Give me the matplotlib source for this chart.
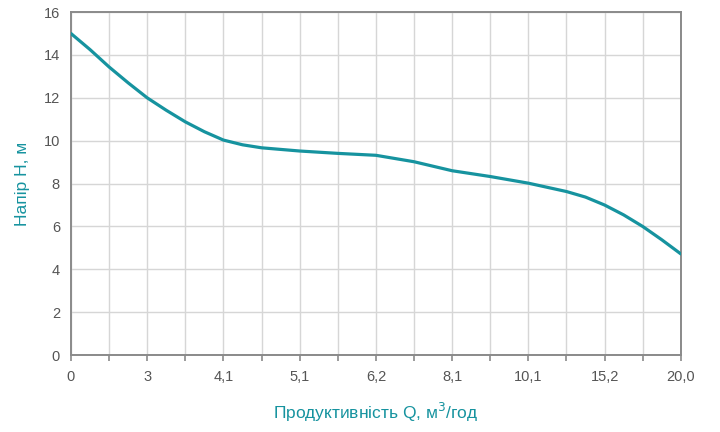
import matplotlib.pyplot as plt
from matplotlib import font_manager

# Pump curve: head vs. flow (x axis is uneven, labels sit at equal slots)
FLOW_LABELS = ["0", "3", "4,1", "5,1", "6,2", "8,1", "10,1", "15,2", "20,0"]
SLOTS = [0, 0.25, 0.5, 0.75, 1, 1.25, 1.5, 1.75, 2, 2.25, 2.5, 3, 3.5, 4,
         4.5, 5, 5.5, 6, 6.5, 6.75, 7, 7.25, 7.5, 7.75, 8]
HEAD = [15.0, 14.25, 13.44, 12.7, 12.0, 11.42, 10.88, 10.42, 10.03, 9.81, 9.67,
        9.52, 9.41, 9.32, 9.02, 8.6, 8.33, 8.02, 7.63, 7.37, 7.0, 6.54, 6.0, 5.38, 4.72]
HEAD_TICKS = [0, 2, 4, 6, 8, 10, 12, 14, 16]

TEAL = "#16939f"
names = {f.name for f in font_manager.fontManager.ttflist}
font = "Liberation Sans Narrow" if "Liberation Sans Narrow" in names else "Liberation Sans"
plt.rcParams["font.family"] = [font, "DejaVu Sans"]

fig = plt.figure(figsize=(7.2, 4.32), dpi=100)
ax = fig.add_axes([0.0986, 0.178, 0.847, 0.794])

ax.plot(SLOTS, HEAD, color=TEAL, linewidth=2.3, solid_joinstyle="round",
        solid_capstyle="round", zorder=3)

ax.set_xlim(0, len(FLOW_LABELS) - 1)
ax.set_ylim(0, 16)
ax.set_xticks(range(len(FLOW_LABELS)))
ax.set_xticklabels(FLOW_LABELS)
ax.set_xticks([i + 0.5 for i in range(len(FLOW_LABELS) - 1)], minor=True)
ax.set_yticks(HEAD_TICKS)

ax.grid(True, axis="x", which="both", color="#d6d6d6", linewidth=1.0)
ax.grid(True, axis="y", which="major", color="#d6d6d6", linewidth=1.0)
ax.set_axisbelow(True)
for s in ax.spines.values():
    s.set_color("#8a8a8a")
    s.set_linewidth(1.4)

ax.tick_params(axis="x", which="both", direction="out", length=4, width=1.2,
               color="#8a8a8a", labelcolor="#555555", labelsize=10.5, pad=7)
ax.tick_params(axis="y", which="both", length=0, labelcolor="#555555", labelsize=10.5, pad=8)

ax.set_xlabel("Продуктивність Q, м$^3$/год", color=TEAL, fontsize=12.5, labelpad=12)
ax.set_ylabel("Напір H, м", color=TEAL, fontsize=12.5, labelpad=10)

fig.savefig("out.png", dpi=100)
